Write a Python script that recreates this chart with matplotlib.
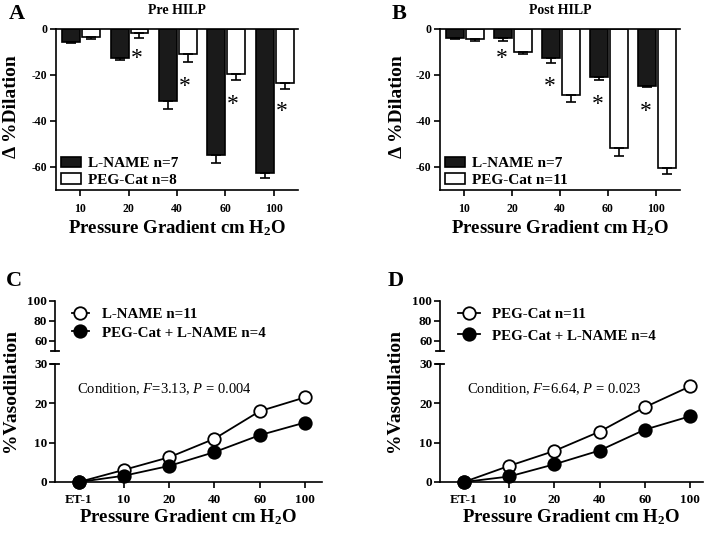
import numpy as np
import matplotlib
matplotlib.use('Agg')
import matplotlib.pyplot as plt
from matplotlib.patches import Patch
from matplotlib.lines import Line2D

plt.rcParams['font.family'] = ['Liberation Serif', 'DejaVu Serif']
plt.rcParams['mathtext.fontset'] = 'custom'
plt.rcParams['mathtext.rm'] = 'Liberation Serif'
plt.rcParams['mathtext.it'] = 'Liberation Serif:italic'
plt.rcParams['mathtext.bf'] = 'Liberation Serif:bold'

# ---- data ----
bar_cats = ['10', '20', '40', '60', '100']

# panel A (pre HILP)
a_lname = [-5.5, -12.4, -31.2, -54.6, -62.6]
a_lname_err = [0.7, 1.2, 3.6, 3.6, 2.2]
a_peg = [-3.3, -1.7, -11.0, -19.6, -23.4]
a_peg_err = [0.9, 2.0, 3.5, 2.6, 2.6]

# panel B (post HILP)
b_lname = [-4.1, -3.8, -12.8, -20.8, -24.9]
b_lname_err = [0.4, 1.3, 2.2, 1.5, 0.3]
b_peg = [-4.5, -9.9, -28.5, -51.6, -60.3]
b_peg_err = [0.9, 1.0, 3.2, 3.8, 2.9]

# asterisks (category index, y)
star_idx = [1, 2, 3, 4]
star_y = [-10.4, -22.6, -30.4, -33.6]

line_cats = ['ET-1', '10', '20', '40', '60', '100']
c_lname = [0, 3.1, 6.3, 11.0, 18.0, 21.5]
c_both = [0, 1.6, 4.1, 7.6, 11.9, 15.1]
d_peg = [0, 4.1, 7.9, 12.8, 19.0, 24.3]
d_both = [0, 1.4, 4.5, 8.0, 13.3, 16.7]

W, H = 715, 539
fig = plt.figure(figsize=(W / 100, H / 100), dpi=100)


def box(l, t, r, b):
    return [l / W, 1 - b / H, (r - l) / W, (b - t) / H]


def ftext(x, y, s, **kw):
    fig.text(x / W, 1 - y / H, s, **kw)


def style(ax, fs=8.5):
    for sp in ax.spines.values():
        sp.set_linewidth(1.2)
    ax.tick_params(width=1.2, length=4.5, labelsize=fs, direction='out')
    for lab in ax.get_xticklabels() + ax.get_yticklabels():
        lab.set_fontweight('bold')


def bar_panel(rect, black, black_err, white, white_err, star_dx, title, letter, letter_xy,
              ylab_x, labels):
    ax = fig.add_axes(box(*rect))
    x = np.arange(len(bar_cats))
    w = 0.37
    ax.bar(x - w, black, w, align='edge', color='#1a1a1a', edgecolor='black', linewidth=1.2,
           yerr=[black_err, np.zeros(len(x))], capsize=3.5, error_kw=dict(elinewidth=1.2, capthick=1.2))
    ax.bar(x + 0.04, white, w, align='edge', color='white', edgecolor='black', linewidth=1.2,
           yerr=[white_err, np.zeros(len(x))], capsize=3.5, error_kw=dict(elinewidth=1.2, capthick=1.2))
    for i, yv in zip(star_idx, star_y):
        ax.annotate('*', (i + star_dx, yv), xytext=(0, -8), textcoords='offset points',
                    ha='center', va='baseline', fontsize=17)
    ax.set_xlim(-0.5, 4.5)
    ax.set_ylim(-70, 0)
    ax.set_xticks(x)
    ax.set_xticklabels(bar_cats)
    ax.set_yticks([0, -20, -40, -60])
    ax.set_yticklabels(['0', '-20', '-40', '-60'])
    ax.spines['right'].set_visible(False)
    style(ax)
    ax.tick_params(axis='x', pad=5)
    ax.tick_params(axis='y', pad=1.5)
    handles = [Patch(facecolor='#1a1a1a', edgecolor='black', linewidth=1.2),
               Patch(facecolor='white', edgecolor='black', linewidth=1.2)]
    ax.legend(handles, labels, loc='lower left', bbox_to_anchor=(0.02, 0.02), frameon=False,
              prop=dict(weight='bold', size=11), handlelength=1.3, handleheight=0.65,
              handletextpad=0.5, labelspacing=0.2, borderpad=0, borderaxespad=0)
    l, t, r, b = rect
    ftext((l + r) / 2, 11, title, ha='center', va='center', fontsize=10, fontweight='bold')
    ftext(letter_xy[0], letter_xy[1], letter, ha='center', va='center', fontsize=16, fontweight='bold')
    ftext(ylab_x, 107, '\u0394 %Dilation', ha='center', va='center', rotation=90,
          fontsize=14, fontweight='bold')
    ftext((l + r) / 2, 228, r'Pressure Gradient cm H$_\mathbf{2}$O', ha='center', va='center',
          fontsize=13.5, fontweight='bold')
    return ax


def line_panel(left, right, xmax, open_y, fill_y, labels, leg_anchor, leg_kw, note, note_x,
               letter, letter_xy, ylab_x):
    top = fig.add_axes(box(left, 300.7, right, 351))
    low = fig.add_axes(box(left, 364, right, 482))
    x = np.arange(len(line_cats))
    low.plot(x, open_y, '-o', color='black', lw=1.3, ms=9, mfc='white', mec='black', mew=1.3,
             clip_on=False, zorder=3)
    low.plot(x, fill_y, '-o', color='black', lw=1.3, ms=9, mfc='black', mec='black', mew=1.3,
             clip_on=False, zorder=4)
    low.set_xlim(-0.53, xmax)
    low.set_ylim(0, 30)
    low.set_yticks([0, 10, 20, 30])
    low.set_xticks(x)
    low.set_xticklabels(line_cats)
    low.spines['right'].set_visible(False)
    low.spines['top'].set_visible(False)
    style(low, 9.5)
    low.tick_params(axis='x', pad=4)
    low.tick_params(axis='y', pad=1)

    top.set_xlim(-0.53, xmax)
    top.set_ylim(50, 100)
    top.set_yticks([60, 80, 100])
    top.set_xticks([])
    for s in ['right', 'top', 'bottom']:
        top.spines[s].set_visible(False)
    style(top, 9.5)
    top.tick_params(axis='y', pad=1)
    top.patch.set_alpha(0)
    low.patch.set_alpha(0)

    # break marks on the y axis
    for yb in (351, 364):
        fig.add_artist(Line2D([(left - 4) / W, (left + 4) / W], [1 - yb / H, 1 - yb / H],
                              color='black', lw=1.3))

    handles = [Line2D([], [], color='black', lw=1.3, marker='o', ms=9, mfc='white', mew=1.3),
               Line2D([], [], color='black', lw=1.3, marker='o', ms=9, mfc='black', mew=1.3)]
    top.legend(handles, labels, loc='upper left', bbox_to_anchor=leg_anchor, frameon=False,
               prop=dict(weight='bold', size=10.8), borderpad=0, borderaxespad=0, **leg_kw)

    ftext(note_x, 389, note, ha='left', va='center', fontsize=10.5)
    ftext(letter_xy[0], letter_xy[1], letter, ha='center', va='center', fontsize=16, fontweight='bold')
    ftext(ylab_x, 390, '%Vasodilation', ha='center', va='center', rotation=90,
          fontsize=14, fontweight='bold')
    ftext((left + right) / 2, 517, r'Pressure Gradient cm H$_\mathbf{2}$O', ha='center', va='center',
          fontsize=13.5, fontweight='bold')


bar_panel((56, 29, 298, 190), a_lname, a_lname_err, a_peg, a_peg_err, 0.16, 'Pre HILP', 'A', (17, 14),
          12, ['L-NAME n=7', 'PEG-Cat n=8'])
bar_panel((440, 29, 680, 190), b_lname, b_lname_err, b_peg, b_peg_err, -0.22, 'Post HILP', 'B', (399, 14),
          397, ['L-NAME n=7', 'PEG-Cat n=11'])

line_panel(55, 322, 5.38, c_lname, c_both, ['L-NAME n=11', 'PEG-Cat + L-NAME n=4'], (0.064, 0.86),
           dict(handlelength=1.1, handletextpad=0.9, labelspacing=0.33),
           r'Condition, $\mathit{F}$=3.13, $\mathit{P}$ = 0.004', 77, 'C', (14, 281), 11)
line_panel(440, 703, 5.29, d_peg, d_both, ['PEG-Cat n=11', 'PEG-Cat + L-NAME n=4'], (0.068, 0.86),
           dict(handlelength=1.45, handletextpad=0.8, labelspacing=0.53),
           r'Condition, $\mathit{F}$=6.64, $\mathit{P}$ = 0.023', 467, 'D', (396, 281), 395)

fig.savefig('out.png', dpi=100)
